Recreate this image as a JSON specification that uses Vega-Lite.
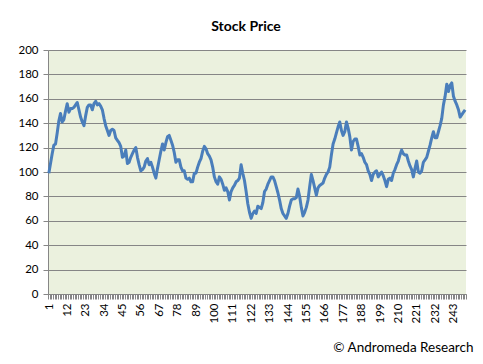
{
"$schema": "https://vega.github.io/schema/vega-lite/v6.json",
"width": 418,
"height": 244,
"autosize": {"type": "none"},
"padding": {"left": 48, "top": 50, "right": 17, "bottom": 70},
"background": "white",
"title": {"text": "Stock Price", "font": "Lato", "fontSize": 14, "fontWeight": "bold", "color": "black", "anchor": "middle", "dx": -11, "offset": 10},
"data": {"values": [
{"day":1,"price":99},{"day":2,"price":107},{"day":3,"price":115},{"day":4,"price":122},{"day":5,"price":123},{"day":6,"price":132},{"day":7,"price":142},{"day":8,"price":148},{"day":9,"price":141},{"day":10,"price":143},
{"day":11,"price":150},{"day":12,"price":156},{"day":13,"price":149},{"day":14,"price":152},{"day":15,"price":152},{"day":16,"price":153},{"day":17,"price":155},{"day":18,"price":157},{"day":19,"price":151},{"day":20,"price":145},
{"day":21,"price":141},{"day":22,"price":138},{"day":23,"price":146},{"day":24,"price":153},{"day":25,"price":155},{"day":26,"price":155},{"day":27,"price":151},{"day":28,"price":156},{"day":29,"price":158},{"day":30,"price":155},
{"day":31,"price":156},{"day":32,"price":154},{"day":33,"price":151},{"day":34,"price":144},{"day":35,"price":138},{"day":36,"price":134},{"day":37,"price":130},{"day":38,"price":134},{"day":39,"price":135},{"day":40,"price":134},
{"day":41,"price":128},{"day":42,"price":126},{"day":43,"price":124},{"day":44,"price":121},{"day":45,"price":112},{"day":46,"price":113},{"day":47,"price":118},{"day":48,"price":107},{"day":49,"price":108},{"day":50,"price":112},
{"day":51,"price":115},{"day":52,"price":118},{"day":53,"price":120},{"day":54,"price":112},{"day":55,"price":106},{"day":56,"price":101},{"day":57,"price":102},{"day":58,"price":104},{"day":59,"price":109},{"day":60,"price":111},
{"day":61,"price":106},{"day":62,"price":108},{"day":63,"price":104},{"day":64,"price":99},{"day":65,"price":95},{"day":66,"price":103},{"day":67,"price":110},{"day":68,"price":117},{"day":69,"price":123},{"day":70,"price":118},
{"day":71,"price":124},{"day":72,"price":129},{"day":73,"price":130},{"day":74,"price":126},{"day":75,"price":122},{"day":76,"price":116},{"day":77,"price":108},{"day":78,"price":110},{"day":79,"price":110},{"day":80,"price":104},
{"day":81,"price":101},{"day":82,"price":101},{"day":83,"price":95},{"day":84,"price":94},{"day":85,"price":95},{"day":86,"price":92},{"day":87,"price":92},{"day":88,"price":99},{"day":89,"price":99},{"day":90,"price":104},
{"day":91,"price":108},{"day":92,"price":111},{"day":93,"price":117},{"day":94,"price":121},{"day":95,"price":119},{"day":96,"price":115},{"day":97,"price":113},{"day":98,"price":110},{"day":99,"price":104},{"day":100,"price":96},
{"day":101,"price":92},{"day":102,"price":90},{"day":103,"price":96},{"day":104,"price":94},{"day":105,"price":90},{"day":106,"price":85},{"day":107,"price":87},{"day":108,"price":84},{"day":109,"price":77},{"day":110,"price":84},
{"day":111,"price":87},{"day":112,"price":89},{"day":113,"price":92},{"day":114,"price":93},{"day":115,"price":95},{"day":116,"price":106},{"day":117,"price":99},{"day":118,"price":93},{"day":119,"price":84},{"day":120,"price":74},
{"day":121,"price":67},{"day":122,"price":62},{"day":123,"price":66},{"day":124,"price":68},{"day":125,"price":66},{"day":126,"price":72},{"day":127,"price":71},{"day":128,"price":70},{"day":129,"price":75},{"day":130,"price":84},
{"day":131,"price":86},{"day":132,"price":90},{"day":133,"price":93},{"day":134,"price":96},{"day":135,"price":96},{"day":136,"price":93},{"day":137,"price":88},{"day":138,"price":83},{"day":139,"price":77},{"day":140,"price":70},
{"day":141,"price":66},{"day":142,"price":64},{"day":143,"price":62},{"day":144,"price":66},{"day":145,"price":72},{"day":146,"price":77},{"day":147,"price":78},{"day":148,"price":78},{"day":149,"price":79},{"day":150,"price":86},
{"day":151,"price":80},{"day":152,"price":71},{"day":153,"price":64},{"day":154,"price":67},{"day":155,"price":71},{"day":156,"price":77},{"day":157,"price":88},{"day":158,"price":98},{"day":159,"price":93},{"day":160,"price":87},
{"day":161,"price":81},{"day":162,"price":87},{"day":163,"price":89},{"day":164,"price":90},{"day":165,"price":91},{"day":166,"price":95},{"day":167,"price":98},{"day":168,"price":100},{"day":169,"price":104},{"day":170,"price":114},
{"day":171,"price":123},{"day":172,"price":127},{"day":173,"price":132},{"day":174,"price":137},{"day":175,"price":141},{"day":176,"price":134},{"day":177,"price":130},{"day":178,"price":133},{"day":179,"price":141},{"day":180,"price":136},
{"day":181,"price":129},{"day":182,"price":118},{"day":183,"price":125},{"day":184,"price":127},{"day":185,"price":127},{"day":186,"price":121},{"day":187,"price":114},{"day":188,"price":115},{"day":189,"price":112},{"day":190,"price":108},
{"day":191,"price":106},{"day":192,"price":101},{"day":193,"price":98},{"day":194,"price":93},{"day":195,"price":98},{"day":196,"price":100},{"day":197,"price":101},{"day":198,"price":96},{"day":199,"price":98},{"day":200,"price":100},
{"day":201,"price":97},{"day":202,"price":93},{"day":203,"price":88},{"day":204,"price":94},{"day":205,"price":95},{"day":206,"price":93},{"day":207,"price":99},{"day":208,"price":102},{"day":209,"price":106},{"day":210,"price":109},
{"day":211,"price":114},{"day":212,"price":118},{"day":213,"price":115},{"day":214,"price":114},{"day":215,"price":114},{"day":216,"price":109},{"day":217,"price":105},{"day":218,"price":102},{"day":219,"price":96},{"day":220,"price":103},
{"day":221,"price":109},{"day":222,"price":100},{"day":223,"price":99},{"day":224,"price":101},{"day":225,"price":108},{"day":226,"price":110},{"day":227,"price":112},{"day":228,"price":117},{"day":229,"price":122},{"day":230,"price":128},
{"day":231,"price":133},{"day":232,"price":128},{"day":233,"price":128},{"day":234,"price":133},{"day":235,"price":138},{"day":236,"price":144},{"day":237,"price":155},{"day":238,"price":162},{"day":239,"price":172},{"day":240,"price":166},
{"day":241,"price":171},{"day":242,"price":173},{"day":243,"price":162},{"day":244,"price":158},{"day":245,"price":155},{"day":246,"price":151},{"day":247,"price":145},{"day":248,"price":147},{"day":249,"price":149},{"day":250,"price":151}
]},
"mark": {"type": "line", "color": "#4A7EBB", "strokeWidth": 3, "strokeJoin": "round"},
"encoding": {
"x": {"field": "day", "type": "quantitative",
 "scale": {"domain": [0.5, 250.5], "nice": false, "zero": false},
 "axis": {
  "values": [0.5,1.5,2.5,3.5,4.5,5.5,6.5,7.5,8.5,9.5,10.5,11.5,12.5,13.5,14.5,15.5,16.5,17.5,18.5,19.5,20.5,21.5,22.5,23.5,24.5,25.5,26.5,27.5,28.5,29.5,30.5,31.5,32.5,33.5,34.5,35.5,36.5,37.5,38.5,39.5,40.5,41.5,42.5,43.5,44.5,45.5,46.5,47.5,48.5,49.5,50.5,51.5,52.5,53.5,54.5,55.5,56.5,57.5,58.5,59.5,60.5,61.5,62.5,63.5,64.5,65.5,66.5,67.5,68.5,69.5,70.5,71.5,72.5,73.5,74.5,75.5,76.5,77.5,78.5,79.5,80.5,81.5,82.5,83.5,84.5,85.5,86.5,87.5,88.5,89.5,90.5,91.5,92.5,93.5,94.5,95.5,96.5,97.5,98.5,99.5,100.5,101.5,102.5,103.5,104.5,105.5,106.5,107.5,108.5,109.5,110.5,111.5,112.5,113.5,114.5,115.5,116.5,117.5,118.5,119.5,120.5,121.5,122.5,123.5,124.5,125.5,126.5,127.5,128.5,129.5,130.5,131.5,132.5,133.5,134.5,135.5,136.5,137.5,138.5,139.5,140.5,141.5,142.5,143.5,144.5,145.5,146.5,147.5,148.5,149.5,150.5,151.5,152.5,153.5,154.5,155.5,156.5,157.5,158.5,159.5,160.5,161.5,162.5,163.5,164.5,165.5,166.5,167.5,168.5,169.5,170.5,171.5,172.5,173.5,174.5,175.5,176.5,177.5,178.5,179.5,180.5,181.5,182.5,183.5,184.5,185.5,186.5,187.5,188.5,189.5,190.5,191.5,192.5,193.5,194.5,195.5,196.5,197.5,198.5,199.5,200.5,201.5,202.5,203.5,204.5,205.5,206.5,207.5,208.5,209.5,210.5,211.5,212.5,213.5,214.5,215.5,216.5,217.5,218.5,219.5,220.5,221.5,222.5,223.5,224.5,225.5,226.5,227.5,228.5,229.5,230.5,231.5,232.5,233.5,234.5,235.5,236.5,237.5,238.5,239.5,240.5,241.5,242.5,243.5,244.5,245.5,246.5,247.5,248.5,249.5,250.5],
  "labelExpr": "((datum.value - 0.5) % 11 == 0) ? toString(datum.value + 0.5) : ''",
  "labelAngle": -90,
  "labelOffset": 1,
  "labelOverlap": false,
  "labelFlush": false,
  "labelBound": false,
  "labelFont": "Lato",
  "labelFontSize": 11.5,
  "labelColor": "black",
  "labelPadding": 4,
  "tickSize": 5,
  "tickColor": "#868686",
  "domainColor": "#868686",
  "grid": false,
  "title": "© Andromeda Research",
  "titleFont": "Lato",
  "titleFontSize": 13.5,
  "titleFontWeight": "normal",
  "titleColor": "black",
  "titleAlign": "right",
  "titleBaseline": "top",
  "titleX": 425,
  "titleY": 46
 }},
"y": {"field": "price", "type": "quantitative",
 "scale": {"domain": [0, 200], "nice": false},
 "axis": {
  "values": [0,20,40,60,80,100,120,140,160,180,200],
  "grid": true,
  "gridColor": "#868686",
  "gridWidth": 1,
  "domainColor": "#868686",
  "tickColor": "#868686",
  "tickSize": 5,
  "labelPadding": 5,
  "labelFont": "Lato",
  "labelFontSize": 11.5,
  "labelColor": "black",
  "title": null
 }}
},
"config": {"view": {"fill": "#EBF1DE", "stroke": null}}
}
